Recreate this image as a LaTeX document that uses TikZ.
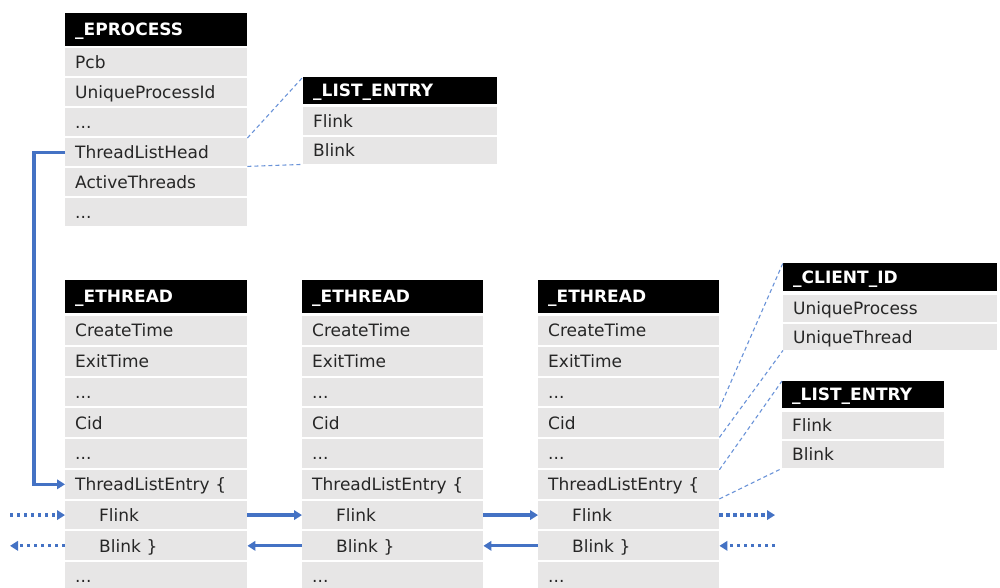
\documentclass[tikz,border=0pt]{standalone}
\usepackage{fontspec}
\setmainfont{DejaVu Sans}
\usetikzlibrary{arrows.meta}

\definecolor{cellgray}{HTML}{E7E6E6}
\definecolor{ink}{HTML}{262626}
\definecolor{linkblue}{HTML}{4472C4}
\definecolor{hintblue}{HTML}{6A93D8}

\newcommand\etc{...}
\newcommand\fieldindent{\hspace*{24pt}}

% #1 name, #2 left x, #3 header top, #4 header bottom, #5 first row top,
% #6 width, #7 row pitch, #8 header text, #9 list of fields
\newcommand\drawstruct[9]{%
  \pgfmathsetmacro\structtw{#6-20}%
  \node[hdr, minimum width=#6, minimum height={#4-#3}, text width=\structtw pt] (#1-h) at (#2,#3) {#8};%
  \foreach \t [count=\i] in {#9} {%
    \node[cell, minimum width=#6, minimum height={#7-2}, text width=\structtw pt] (#1-\i) at (#2,{#5+(\i-1)*#7}) {\t};%
  }%
}

\begin{document}
\begin{tikzpicture}[x=1pt, y=-1pt,
  hdr/.style={anchor=north west, fill=black, text=white,
    font=\bfseries\fontsize{17}{20}\selectfont, inner xsep=10pt, inner ysep=0pt,
    text height=12.4pt, text depth=0pt, align=left},
  cell/.style={anchor=north west, fill=cellgray, text=ink,
    font=\fontsize{17}{20}\selectfont, inner xsep=10pt, inner ysep=0pt,
    text height=12.4pt, text depth=0pt, align=left},
  link/.style={draw=linkblue, line width=3.2pt, -{Triangle[length=8pt,width=9.5pt]}},
  weaklink/.style={link, dash pattern=on 3.2pt off 3.8pt},
  hint/.style={draw=hintblue, line width=1.1pt, dash pattern=on 4pt off 3pt}]

\useasboundingbox (0,0) rectangle (1000,588);
\clip (0,0) rectangle (1000,588);

% process object and its list head
\drawstruct{ep}{65}{13}{46}{48}{182}{30}{\_EPROCESS}%
  {Pcb, UniqueProcessId, \etc, ThreadListHead, ActiveThreads, \etc}
\drawstruct{leA}{303}{77}{104}{107}{194}{29.5}{\_LIST\_ENTRY}{Flink, Blink}

% thread objects
\drawstruct{etA}{65}{280}{313}{316}{182}{30.75}{\_ETHREAD}%
  {CreateTime, ExitTime, \etc, Cid, \etc, ThreadListEntry \{, \fieldindent Flink, \fieldindent Blink \}, \etc}
\drawstruct{etB}{302}{280}{313}{316}{181}{30.75}{\_ETHREAD}%
  {CreateTime, ExitTime, \etc, Cid, \etc, ThreadListEntry \{, \fieldindent Flink, \fieldindent Blink \}, \etc}
\drawstruct{etC}{538}{280}{313}{316}{181}{30.75}{\_ETHREAD}%
  {CreateTime, ExitTime, \etc, Cid, \etc, ThreadListEntry \{, \fieldindent Flink, \fieldindent Blink \}, \etc}

% expanded member types
\drawstruct{ci}{783}{263}{291}{295}{214}{28.5}{\_CLIENT\_ID}{UniqueProcess, UniqueThread}
\drawstruct{leB}{782}{381}{408}{412}{162}{29}{\_LIST\_ENTRY}{Flink, Blink}

% expansion hints
\draw[hint] (ep-4.north east) -- (leA-h.north west);
\draw[hint] (ep-4.south east) -- (leA-2.south west);
\draw[hint] (etC-4.north east) -- (ci-h.north west);
\draw[hint] (etC-4.south east) -- (ci-2.south west);
\draw[hint] (etC-6.north east) -- (leB-h.north west);
\draw[hint] (etC-6.south east) -- (leB-2.south west);

% list head to first entry
\draw[link] (ep-4.west) -- ++(-31,0) |- (etA-6.west);

% doubly linked thread list
\draw[link] (etA-7.east) -- (etB-7.west);
\draw[link] (etB-8.west) -- (etA-8.east);
\draw[link] (etB-7.east) -- (etC-7.west);
\draw[link] (etC-8.west) -- (etB-8.east);

% links continuing beyond the shown entries
\coordinate (inF)  at (etA-7.west -| 10,0);
\coordinate (outB) at (etA-8.west -| 10,0);
\coordinate (outF) at (etC-7.east -| 775,0);
\coordinate (inB)  at (etC-8.east -| 775,0);
\draw[weaklink] (inF) -- (etA-7.west);
\draw[weaklink] (etA-8.west) -- (outB);
\draw[weaklink] (etC-7.east) -- (outF);
\draw[weaklink] (inB) -- (etC-8.east);
\end{tikzpicture}
\end{document}
